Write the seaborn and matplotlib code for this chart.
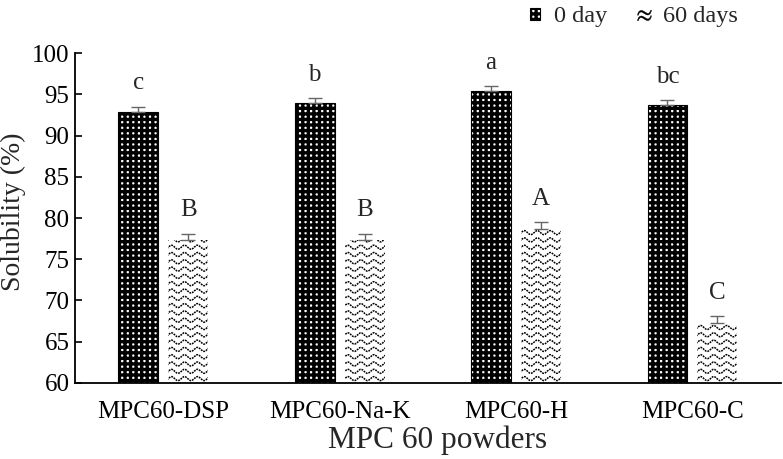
import numpy as np
import pandas as pd
import matplotlib
matplotlib.use("Agg")
import matplotlib.pyplot as plt
import seaborn as sns
from matplotlib.patches import Patch
from matplotlib.lines import Line2D

powders = ["MPC60-DSP", "MPC60-Na-K", "MPC60-H", "MPC60-C"]
times = ["0 day", "60 days"]
sol_0day = [92.9, 93.9, 95.4, 93.7]
sol_60days = [77.3, 77.3, 78.7, 67.3]
err_0day = [0.6, 0.6, 0.6, 0.6]
err_60days = [0.8, 0.8, 0.8, 0.8]
letters_0day = ["c", "b", "a", "bc"]
letters_60days = ["B", "B", "A", "C"]

sns.set_style("ticks")
plt.rcParams["font.family"] = ["Liberation Serif", "DejaVu Serif"]
plt.rcParams["mathtext.fontset"] = "stix"
plt.rcParams["hatch.linewidth"] = 2.4

df = pd.DataFrame({
    "powder": powders * 2,
    "time": [times[0]] * 4 + [times[1]] * 4,
    "solubility": sol_0day + sol_60days,
})

fig = plt.figure(figsize=(7.83, 4.59), dpi=100)
ax = fig.add_axes([0.0958, 0.1656, 0.9012, 0.7189])

sns.barplot(data=df, x="powder", y="solubility", hue="time", order=powders,
            hue_order=times, width=0.566, gap=0.2, errorbar=None,
            legend=False, ax=ax)

ax.set_ylim(60, 100)
ax.set_xlim(-0.5, 3.5)
ax.set_yticks(np.arange(60, 101, 5))

c0, c1 = ax.containers[0], ax.containers[1]
for p in c0:
    p.set_facecolor("white")
    p.set_edgecolor("black")
    p.set_hatch("+++")
    p.set_linewidth(0.8)
for p in c1:
    p.set_facecolor("white")
    p.set_edgecolor("none")
    p.set_linewidth(0)

# wave texture for 60-day bars
fig.canvas.draw()
inv = ax.transData.inverted()
(x0d, y0d) = inv.transform((0, 0))
(x1d, y1d) = inv.transform((1, 1))
px_x = x1d - x0d
px_y = y1d - y0d
period = 13 * px_x
amp = 2.0 * px_y
row = 7.3 * px_y
for p in c1:
    bx = p.get_x()
    bw = p.get_width()
    top = p.get_height()
    xs = np.linspace(bx - period, bx + bw + period, 200)
    yrow = 60 + row * 0.6
    while yrow < top + row:
        ys = yrow + amp * np.sin(2 * np.pi * (xs - bx) / period)
        ln, = ax.plot(xs, ys, color="black", lw=1.1, ls=(0, (1.2, 0.6)))
        ln.set_clip_path(p)
        yrow += row

# error bars (upper only)
for cont, vals, errs, labs in [(c0, sol_0day, err_0day, letters_0day),
                                (c1, sol_60days, err_60days, letters_60days)]:
    xc = [p.get_x() + p.get_width() / 2 for p in cont]
    ax.errorbar(xc, vals, yerr=[np.zeros(len(errs)), errs], fmt="none",
                ecolor="#666666", elinewidth=1.0, capsize=5, capthick=1.0)
    for x, v, e, t in zip(xc, vals, errs, labs):
        ax.text(x, v + e + 2.1, t, ha="center", va="baseline", fontsize=18)

sns.despine(ax=ax)
ax.spines["left"].set_linewidth(1.3)
ax.spines["bottom"].set_linewidth(1.3)
ax.spines["left"].set_color("black")
ax.spines["bottom"].set_color("black")
ax.tick_params(axis="y", direction="in", length=5, width=1.2, labelsize=18,
               colors="black", pad=4)
ax.tick_params(axis="x", length=0, labelsize=18, colors="black", pad=13)
ax.set_ylabel("Solubility (%)", fontsize=20, labelpad=4)
ax.yaxis.label.set_y(0.52)
ax.set_xlabel("MPC 60 powders", fontsize=22.5, labelpad=2)
ax.xaxis.label.set_x(0.514)

h0 = Patch(facecolor="white", edgecolor="black", hatch="+++", linewidth=0.8)
h1 = Line2D([], [], linestyle="none", marker=r"$\approx$", color="black",
            markersize=10, markeredgewidth=0.3)
fig.legend([h0, h1], times, loc="center right", bbox_to_anchor=(0.943, 0.963),
           ncol=2, frameon=False, fontsize=17.5, handlelength=0.4,
           handleheight=0.4, handletextpad=0.6, columnspacing=1.3,
           borderaxespad=0, borderpad=0)

fig.savefig("out.png", dpi=100)
